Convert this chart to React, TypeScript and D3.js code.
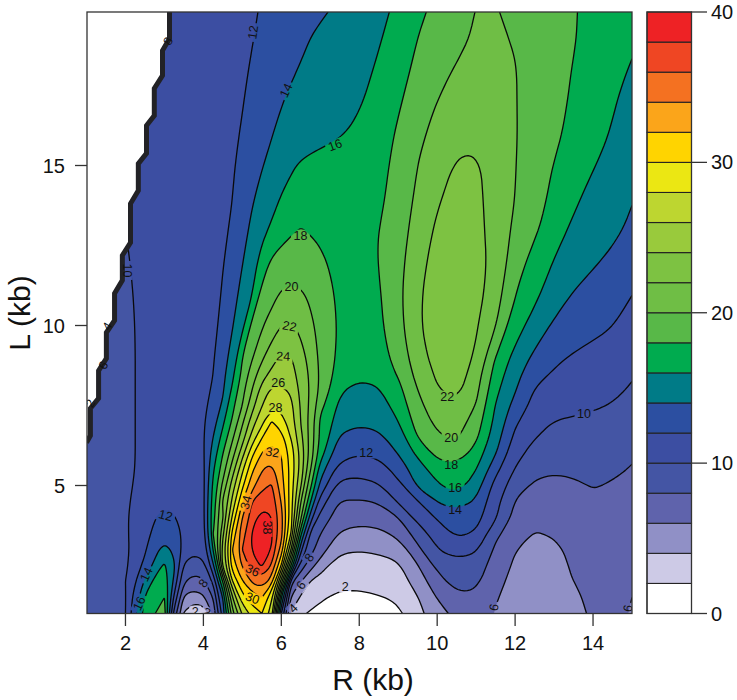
import React from "react";
import * as d3 from "d3";

const W = 737;
const H = 700;

const colsR = [1,2,2.5,2.75,3,3.25,3.5,3.75,4,4.25,4.5,4.75,5,5.25,5.5,5.75,6,6.25,6.5,6.75,7,7.5,8,8.5,9,9.5,10,10.5,11,11.5,12,12.5,13,13.5,14,14.5,15];
const rowsL = [1,1.5,2,2.5,3,3.5,4,4.5,5,5.5,6,6.5,7,7.5,8,8.5,9,10,11,12,13,14,15,16,17,18,19,19.8];

const grid: number[][] = [
[9,10,16.9,17.95,18.8,9.3,3.8,1.6,1.7,6.7,13,21.3,26.3,28.8,30,27,12,3.8,2.4,1.7,1.3,1,1,1.2,1.6,3.4,5.2,6.6,6.9,5.9,5.4,5.1,5.2,5.6,6.2,6.4,5.9],
[9,9.9,16.2,17.7,18,11.5,5.5,4.6,5.5,8,14,24,29.4,31.3,32,28.3,16,5.6,3.7,3.1,2.3,1.6,1.8,1.9,2.2,3.9,6.1,7.9,7.8,6.1,5.5,5.2,5.3,5.7,6.3,6.4,6],
[9.1,10,14.3,16.6,17.4,13.6,8.3,7,7.7,10.4,18,28,31.8,34.4,35.9,33,23,8.6,6.1,3.8,3.3,2.3,2.2,2.6,3,5,7.2,8.7,8.4,6.5,5.5,5.1,5.2,6,6.5,6.6,6.3],
[9.1,9.7,12.4,14.5,16.4,14.3,9.8,8.6,9.3,13.6,25,31.5,34.3,37.3,38.3,35.8,30,18,9.2,6.9,5,3.1,3.2,3.4,3.7,5.9,8.5,9.8,9,7.1,5.7,4.8,5.2,6.4,6.8,7,6.9],
[9.2,9.4,11.8,13.3,14.9,13.6,11.4,10.1,11,16,25,32,36,38.1,39.4,37.9,33.3,24,12.5,8.8,7.1,4,4.1,4.2,4.6,7.6,9.9,11.1,10.3,7.7,6.1,4.6,5.2,6.6,7,7.2,7.3],
[9.2,9.8,11.5,12.4,13.4,12.8,11.9,11,11.3,18,23.6,30.8,35.2,38.2,39.9,38.4,34.7,28,16.4,9.4,8,5.8,5.2,5.4,6.6,8.8,10.9,12.4,11.8,8.3,7,5.9,6.2,6.8,7.2,7.5,7.6],
[9.3,9.8,11.1,11.9,12.6,12.1,11.5,11.2,11.7,17,21.7,28.5,34,37,39,38.1,35,29,20.5,13,9.4,7,6.4,7,8,10.7,12.2,13.6,12.9,10.3,7.8,6.6,7,7.3,7.6,7.5,7.2],
[9.3,9.8,10.7,11.3,11.9,11.6,11.3,11.2,11.6,17,22.3,26.6,32,36,37.6,37.2,33.8,28.7,22,16,11,7.9,7.8,8.1,10.2,11.9,14,15.4,13.7,10.4,7.8,7.1,7.1,7.6,7.9,7.7,7.4],
[9.3,9.7,10.5,10.9,11.2,11.2,11.2,11.2,11.6,16.4,20.5,25.1,29.5,33.2,35.3,36.2,33.1,29.1,24.3,18.5,13.6,9.1,9.1,9.8,11.4,14.4,15.7,17,15,11.2,9,7.7,7.6,7.8,8.05,7.9,7.6],
[9.4,9.7,10.3,10.6,10.8,10.9,11,11.2,11.6,15.7,19,23.1,27.6,31.7,33.9,34.8,32.3,29.2,25.2,20,14.8,10.9,10.5,11.2,12.8,14.8,17.2,17.8,16,12.6,9.9,8.4,8.05,8.2,8.5,8.3,7.9],
[9.4,9.7,10.3,10.5,10.7,10.8,11,11.2,11.8,15,18,21.3,25.3,29.6,32.1,33.2,32,29.5,25.8,21.5,17,12.6,12,12.1,14.1,16.5,18.6,19.3,17.1,14.1,10.7,9.1,8.7,8.8,9,8.7,8.2],
[9.4,9.7,10.3,10.5,10.7,10.8,11,11.2,11.9,14,16.7,19.7,23,26.8,29.9,31.8,30.8,27.8,24.5,21.2,17.9,13.7,12.9,13.5,15,18,19.8,20.2,18.4,15,11.5,10.1,9.2,9.2,9.3,9.1,8.6],
[9.4,9.7,10.3,10.5,10.7,10.8,11,11.2,11.8,13.3,15.6,18.3,21.7,25.1,27.3,30,29.2,26.7,23.9,21,17.5,15,14,14.6,16,18.9,20.5,21,19.1,15.4,12.3,10.7,9.95,9.8,9.7,9.4,8.9],
[9.4,9.7,10.3,10.5,10.7,10.8,11,11.2,11.6,12.7,14.3,17.5,20,23.1,25.9,27.9,27.6,26.7,23.9,21.5,18.6,15.6,14.6,15,16.8,19.4,21.5,21.9,19.9,15.9,13.3,11.5,10.9,10.4,10.2,9.9,9.3],
[9.4,9.7,10.3,10.5,10.7,10.8,10.9,11.1,11.4,12.2,13.7,16.4,19.4,22,24.9,26.4,26.3,25.7,23.5,21.8,19.8,16.3,15.3,15.9,17.4,20,21.9,22.6,20.6,16.5,14.2,11.9,11.4,11,10.8,10.5,9.8],
[9.4,9.7,10.3,10.5,10.7,10.8,10.9,11.1,11.3,12,13.5,15.5,18.3,21.2,23,24.4,25,24.6,23.4,21.6,19.7,17,16.1,16.7,18.2,20.7,22.3,23,21,17.2,14.5,12.8,11.8,11.5,11.2,11,10.2],
[9.4,9.7,10.3,10.5,10.7,10.8,10.9,11,11.3,11.9,13.1,14.9,18,19.8,21.6,23.3,24.3,24.1,22.9,21.3,19.6,17.6,17,17.3,18.8,21.2,22.8,23.4,21.7,17.9,15.3,13.6,12.4,11.8,11.5,11.2,10.6],
[9.4,9.7,10.3,10.5,10.6,10.7,10.8,10.9,11.2,11.4,12.6,13.9,15.5,18.5,19.8,20.9,22,22.2,21.6,20.4,19.6,17.8,17.4,17.7,19.4,21.9,23.2,23.6,22.2,20.1,17,15.1,13.7,12.9,12.5,12.05,11.2],
[9.4,9.8,10.3,10.5,10.6,10.7,10.8,10.9,11.1,11.3,12.2,13.3,14.6,15.9,18.5,19.3,20.2,20.3,20.2,19.7,19,17.7,17.4,17.7,19.7,21.6,23.3,23.9,22.7,20.9,18.1,16.5,15.1,13.9,13.1,12.6,12.05],
[9.4,9.9,10.3,10.4,10.5,10.6,10.7,10.8,11,11.1,11.9,12.9,13.9,15.2,16.9,18.3,18.9,19.2,19.2,18.9,18.5,17.3,17,18.1,19.4,21.2,23,23.7,23.3,21.4,19.1,17,15.9,15,14.3,13.5,12.9],
[9.4,10,10.3,10.4,10.5,10.6,10.7,10.8,10.9,10.9,11.5,12.4,13.4,14.4,15.4,16.3,17,17.7,18.1,17.8,17.5,17,17.2,18,19.1,20.9,22.3,22.8,22.6,20.8,19.7,18.4,17,15.6,15.1,14.5,13.7],
[9.4,10,10.3,10.4,10.5,10.6,10.7,10.8,10.9,11,11.2,12,12.9,13.8,14.6,15.3,16.1,16.5,16.7,16.8,16.9,17,17.2,17.6,18.6,20.4,21.8,22.5,22.5,21.2,20,18.9,17.5,16.4,15.4,14.9,14.1],
[9.4,10,10.3,10.4,10.5,10.6,10.7,10.8,10.9,11,11.2,11.9,12.5,13.2,13.9,14.5,15.2,15.8,16.2,16.4,16.6,16.9,17.1,17.5,18.6,20,21,22.3,22.4,21.1,20,19.1,17.9,17.1,16.1,15.4,14.9],
[9.4,10,10.3,10.4,10.5,10.6,10.7,10.8,10.9,11,11.2,11.5,12.2,12.8,13.3,13.9,14.5,14.9,15.1,15.3,15.5,15.8,16.4,17.2,18.2,19.6,20.7,21.3,21.6,21.2,20.2,19.3,18.4,17.6,16.8,15.9,15.5],
[9.4,10,10.3,10.4,10.5,10.6,10.7,10.8,10.9,11,11.2,11.5,11.9,12.5,12.9,13.3,13.9,14.3,14.6,14.8,15,15.3,15.8,16.7,17.8,18.9,20,20.8,21.2,21,20,19.4,18.6,17.7,17,16.1,15.6],
[9.4,10,10.3,10.4,10.5,10.6,10.7,10.8,10.9,11,11.2,11.4,11.7,12.2,12.6,13,13.4,13.8,14.1,14.3,14.5,14.9,15.3,16.3,17.3,18.4,19.3,20.2,20.6,20.5,20.1,19.5,18.9,17.9,17.4,16.6,15.8],
[9.4,10,10.3,10.4,10.5,10.6,10.7,10.8,10.9,11,11.1,11.3,11.6,11.9,12.4,12.7,13.1,13.4,13.7,14,14.3,14.6,15.1,15.8,16.9,18,18.9,19.5,20.1,20.4,19.8,19.4,19,18.1,17.6,17,16.4],
[9.4,10,10.3,10.4,10.5,10.6,10.7,10.8,10.9,11,11.1,11.3,11.5,11.7,12.2,12.5,12.9,13.2,13.4,13.6,13.8,14.3,14.8,15.4,16.5,17.6,18.5,19.2,20.05,20.1,19.6,19.2,18.8,18.05,17.8,17.3,16.8],
];

const levels = d3.range(2, 40, 2);
const bandEdges = d3.range(0, 42, 2);
const bandColors = [
  "#ffffff","#cdcae6","#9090c6","#5f63ac","#4455a4","#3c4ea2","#2c4fa1","#007b87","#00ab4f","#58b848",
  "#6fbe45","#7dc242","#99ca3c","#bdd630","#ebe713","#ffd400","#fba51a","#f47121","#ef4623","#ee2225",
];

const xTicks = [2,4,6,8,10,12,14];
const yTicks = [5,10,15];
const barTicks = [0,10,20,30,40];

const stairR = [3.13,3.13,2.95,2.95,2.74,2.74,2.54,2.54,2.33,2.33,2.13,2.13,1.92,1.92,1.72,1.72,1.51,1.51,1.31,1.31,1.1,1.1,1.0];
const stairL = [19.8,18.97,18.59,17.81,17.41,16.56,16.25,15.38,15.06,14.22,13.81,12.59,12.19,11.41,11,10.16,9.78,8.97,8.59,7.72,7.41,6.56,6.34];

const labelText = ["12","14","16","18","20","22","24","26","28","32","34","38","36","30","22","20","18","16","14","12","10","12","14","16","8","2","2","8","6","4","2","6","6","10","8","4","6","2"];
const labelR = [5.28,6.13,7.38,6.49,6.26,6.21,6.05,5.92,5.85,5.77,5.1,5.62,5.26,5.26,10.26,10.36,10.36,10.46,10.46,8.18,13.77,3.03,2.54,2.36,4,3.79,4.08,6.72,6.51,6.31,7.64,11.46,14.9,2.03,3.1,1.54,1.44,1.1];
const labelL = [19.16,17.34,15.63,12.81,11.19,9.97,9.03,8.19,7.41,6.03,4.47,3.69,2.34,1.47,7.78,6.5,5.63,4.91,4.25,6.03,7.25,4.06,2.22,1.31,1.94,1.06,1.03,2.75,1.88,1.16,1.84,1.19,1.16,11.72,18.88,9.97,8.75,7.56];
const labelAngle = [-82,-65,-20,0,0,12,3,0,0,8,-75,90,25,20,0,0,0,0,0,0,0,15,-65,-65,-55,0,30,-55,-55,-45,0,-80,-80,90,-60,-60,-60,-60];

const FONT = "'Liberation Sans', Arial, Helvetica, sans-serif";

export default function App() {
  const x = d3.scaleLinear().domain([1, 15]).range([86.5, 632]);
  const y = d3.scaleLinear().domain([1, 19.8]).range([613.5, 11.9]);
  const barY = d3.scaleLinear().domain([0, 40]).range([613.5, 12]);

  const nx = colsR.length;
  const ny = rowsL.length;
  const idxR = d3.scaleLinear().domain(d3.range(nx)).range(colsR).clamp(true);
  const idxL = d3.scaleLinear().domain(d3.range(ny)).range(rowsL).clamp(true);
  const px = (p: number[]) => [x(idxR(p[0] - 0.5)), y(idxL(p[1] - 0.5))];

  const contourGen = d3.contours().size([nx, ny]).thresholds(levels).smooth(true);
  const regions = contourGen(grid.flat());

  const x0 = x(1), x1 = x(15), y0 = y(1), y1 = y(19.8);
  const eps = 0.01;
  const isFixed = (p: number[]) =>
    p[0] <= x0 + eps || p[0] >= x1 - eps || p[1] >= y0 - eps || p[1] <= y1 + eps;
  const sameEdge = (a: number[], b: number[]) =>
    (a[0] <= x0 + eps && b[0] <= x0 + eps) ||
    (a[0] >= x1 - eps && b[0] >= x1 - eps) ||
    (a[1] >= y0 - eps && b[1] >= y0 - eps) ||
    (a[1] <= y1 + eps && b[1] <= y1 + eps);

  // rounds off the corners that the coarse grid leaves on each ring
  const smoothRing = (ring: number[][]) => {
    let pts = ring.slice(0, -1).map(px);
    for (let k = 0; k < 1; k++) {
      pts = pts.map((p, i) => {
        if (isFixed(p)) return p;
        const a = pts[(i - 1 + pts.length) % pts.length];
        const b = pts[(i + 1) % pts.length];
        return [0.25 * a[0] + 0.5 * p[0] + 0.25 * b[0], 0.25 * a[1] + 0.5 * p[1] + 0.25 * b[1]];
      });
    }
    for (let k = 0; k < 2; k++) {
      const out: number[][] = [];
      pts.forEach((a, i) => {
        const b = pts[(i + 1) % pts.length];
        const fa = isFixed(a);
        const fb = isFixed(b);
        if (fa) out.push(a);
        else out.push([0.75 * a[0] + 0.25 * b[0], 0.75 * a[1] + 0.25 * b[1]]);
        if (!fb) out.push([0.25 * a[0] + 0.75 * b[0], 0.25 * a[1] + 0.75 * b[1]]);
      });
      pts = out;
    }
    return pts;
  };

  const fmt = (n: number) => n.toFixed(2);
  const pt = (p: number[]) => p.map(fmt).join(",");
  const ringFill = (pts: number[][]) => "M" + pts.map(pt).join("L") + "Z";
  const ringStroke = (pts: number[][]) => {
    let d = "";
    let pen = false;
    const n = pts.length;
    for (let i = 0; i < n; i++) {
      const a = pts[i];
      const b = pts[(i + 1) % n];
      if (sameEdge(a, b)) {
        pen = false;
        continue;
      }
      if (!pen) d += "M" + pt(a);
      d += "L" + pt(b);
      pen = true;
    }
    return d;
  };

  const rings = regions.map((c) => c.coordinates.flatMap((poly) => poly.map(smoothRing)));

  const stairPts = stairR.map((r, i) => [x(r), y(stairL[i])] as [number, number]);
  const stairLine = d3.line()(stairPts) as string;
  const whitePoly =
    "M" + x(1) + "," + y(19.8) + "L" + stairPts.map((p) => p.join(",")).join("L") + "L" + x(1) + "," + stairPts[stairPts.length - 1][1] + "Z";

  const frameX = 87;
  const frameR = 632;
  const frameT = 12;
  const frameB = 613.5;

  return (
    <svg width={W} height={H} style={{ position: "absolute", left: 0, top: 0, background: "#fff" }} fontFamily={FONT}>
      <defs>
        <clipPath id="plot">
          <rect x={frameX} y={frameT} width={frameR - frameX} height={frameB - frameT} />
        </clipPath>
        <mask id="labelGaps" maskUnits="userSpaceOnUse" x={0} y={0} width={W} height={H}>
          <rect x={0} y={0} width={W} height={H} fill="#fff" />
          {labelText.map((t, i) => (
            <rect
              key={i}
              x={-(t.length * 7 + 5) / 2}
              y={-6}
              width={t.length * 7 + 5}
              height={12}
              fill="#000"
              transform={`translate(${x(labelR[i])},${y(labelL[i])}) rotate(${labelAngle[i]})`}
            />
          ))}
        </mask>
      </defs>

      <g clipPath="url(#plot)">
        <rect x={frameX} y={frameT} width={frameR - frameX} height={frameB - frameT} fill={bandColors[0]} />
        {rings.map((r, i) => (
          <path
            key={i}
            d={r.map(ringFill).join("")}
            fill={bandColors[i + 1]}
            fillRule="evenodd"
            stroke={bandColors[i + 1]}
            strokeWidth={0.3}
          />
        ))}
        <g mask="url(#labelGaps)">
          {rings.map((r, i) => (
            <path
              key={i}
              d={r.map(ringStroke).join("")}
              fill="none"
              stroke="#0a0a0a"
              strokeWidth={1.3}
              strokeLinejoin="round"
            />
          ))}
        </g>
        <path d={whitePoly} fill="#fff" />
        <path d={stairLine} fill="none" stroke="#222226" strokeWidth={5} strokeLinejoin="miter" />
        {labelText.map((t, i) => (
          <text
            key={i}
            fontSize={12.5}
            fill="#111"
            textAnchor="middle"
            dominantBaseline="central"
            transform={`translate(${x(labelR[i])},${y(labelL[i])}) rotate(${labelAngle[i]})`}
          >
            {t}
          </text>
        ))}
      </g>

      <rect x={frameX} y={frameT} width={frameR - frameX} height={frameB - frameT} fill="none" stroke="#333" strokeWidth={1.3} />

      {xTicks.map((t) => (
        <g key={t}>
          <line x1={x(t)} x2={x(t)} y1={frameB} y2={626} stroke="#333" strokeWidth={1.3} />
          <text x={x(t)} y={650} fontSize={20} textAnchor="middle" fill="#111">{t}</text>
        </g>
      ))}
      {yTicks.map((t) => (
        <g key={t}>
          <line x1={75} x2={frameX} y1={y(t)} y2={y(t)} stroke="#333" strokeWidth={1.3} />
          <text x={65} y={y(t) + 7} fontSize={20} textAnchor="end" fill="#111">{t}</text>
        </g>
      ))}
      <text x={373} y={690} fontSize={30} textAnchor="middle" fill="#111">R (kb)</text>
      <text transform="translate(30,313) rotate(-90)" fontSize={30} textAnchor="middle" fill="#111">L (kb)</text>

      {bandColors.map((c, i) => (
        <rect
          key={i}
          x={647}
          width={44.5}
          y={barY(bandEdges[i + 1])}
          height={barY(bandEdges[i]) - barY(bandEdges[i + 1])}
          fill={c}
          stroke="#222"
          strokeWidth={1.1}
        />
      ))}
      <rect x={647} y={barY(40)} width={44.5} height={barY(0) - barY(40)} fill="none" stroke="#333" strokeWidth={1.2} />
      {barTicks.map((t) => (
        <g key={t}>
          <line x1={691.5} x2={707} y1={barY(t)} y2={barY(t)} stroke="#333" strokeWidth={1.3} />
          <text x={711} y={barY(t) + 7} fontSize={20} fill="#111">{t}</text>
        </g>
      ))}
    </svg>
  );
}
